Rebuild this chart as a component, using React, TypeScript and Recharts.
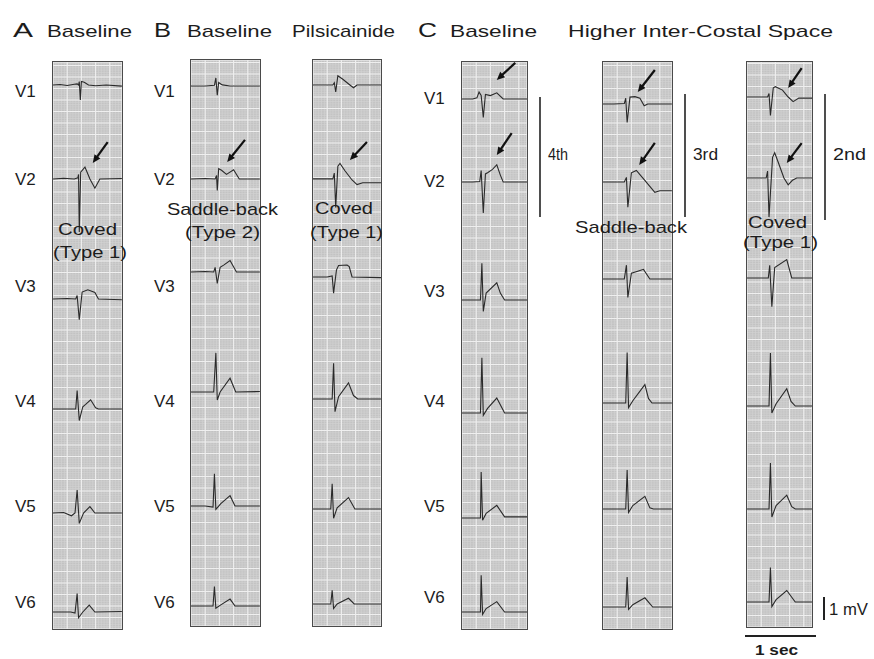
import React from 'react';
import { LineChart, Line, XAxis, YAxis, CartesianGrid, ReferenceLine } from 'recharts';

type Pt = [number, number];

// ---- ECG traces: [time (s) from strip left, amplitude (mV) relative to baseline] ----
const aV1: Pt[] = [[0,0],[0.1,0.02],[0.2,-0.02],[0.3,0.03],[0.34,0.05],[0.36,0],[0.37,0.15],[0.385,-0.65],[0.4,0.15],[0.44,0.12],[0.5,0],[0.6,-0.03],[0.75,0],[0.97,-0.05]];
const aV2: Pt[] = [[0,0],[0.15,0.03],[0.3,0],[0.35,0.05],[0.36,0.2],[0.37,-2.3],[0.39,0.3],[0.45,0.52],[0.52,0],[0.59,-0.4],[0.66,0],[0.97,0.02]];
const aV3: Pt[] = [[0,0],[0.2,0.02],[0.32,0],[0.34,0.15],[0.37,-0.9],[0.41,0.3],[0.49,0.4],[0.59,0.28],[0.64,0],[0.97,-0.03]];
const aV4: Pt[] = [[0,0],[0.2,0],[0.32,0],[0.34,0.8],[0.37,-0.5],[0.42,0.1],[0.46,0.2],[0.53,0.4],[0.6,0.05],[0.64,0],[0.97,0]];
const aV5: Pt[] = [[0,0],[0.15,0.02],[0.26,-0.12],[0.31,0],[0.34,1.0],[0.37,-0.45],[0.43,0],[0.52,0.28],[0.59,0],[0.97,0]];
const aV6: Pt[] = [[0,0],[0.25,0],[0.31,-0.05],[0.34,0.8],[0.36,-0.25],[0.42,0],[0.51,0.3],[0.59,0],[0.97,0.02]];

const bV1: Pt[] = [[0,0],[0.2,0],[0.33,0.03],[0.35,0.35],[0.37,-0.4],[0.39,0.15],[0.44,0.05],[0.55,0],[0.97,0]];
const bV2: Pt[] = [[0,0],[0.2,0.02],[0.34,0],[0.36,0.15],[0.37,-0.5],[0.39,0.45],[0.43,0.38],[0.5,0.2],[0.6,0.4],[0.68,0],[0.97,0]];
const bV3: Pt[] = [[0,0],[0.2,0.02],[0.32,0],[0.34,0.2],[0.37,-0.5],[0.41,0.2],[0.46,0.3],[0.55,0.5],[0.64,0],[0.97,0]];
const bV4: Pt[] = [[0,0],[0.2,0],[0.32,0],[0.35,1.7],[0.37,-0.35],[0.41,0],[0.55,0.6],[0.63,0],[0.97,0.02]];
const bV5: Pt[] = [[0,0],[0.2,0],[0.31,-0.05],[0.33,1.4],[0.35,-0.15],[0.42,0.1],[0.55,0.45],[0.62,0],[0.97,0]];
const bV6: Pt[] = [[0,0],[0.2,0],[0.31,0],[0.33,0.85],[0.35,-0.1],[0.42,0.05],[0.55,0.3],[0.62,0],[0.97,0]];

const pV1: Pt[] = [[0,0],[0.2,0],[0.28,0],[0.3,0.1],[0.32,-0.3],[0.35,0.4],[0.42,0.25],[0.52,0],[0.57,-0.12],[0.62,0],[0.97,0]];
const pV2: Pt[] = [[0,0.05],[0.2,0.05],[0.28,0.05],[0.3,0.3],[0.32,-1.2],[0.35,0.6],[0.38,0.72],[0.45,0.4],[0.55,0],[0.62,-0.2],[0.7,-0.12],[0.97,-0.12]];
const pV3: Pt[] = [[0,0],[0.2,0],[0.27,0.05],[0.29,-0.7],[0.33,0.3],[0.36,0.5],[0.48,0.52],[0.51,0.45],[0.55,0],[0.97,-0.03]];
const pV4: Pt[] = [[0,0],[0.2,0],[0.27,0],[0.29,1.55],[0.31,-0.55],[0.36,0.1],[0.5,0.7],[0.57,0.15],[0.63,0],[0.97,0]];
const pV5: Pt[] = [[0,0],[0.2,0],[0.25,0],[0.27,1.1],[0.29,-0.4],[0.34,0.05],[0.5,0.5],[0.59,0],[0.97,0]];
const pV6: Pt[] = [[0,0],[0.2,0],[0.25,0],[0.27,0.6],[0.29,-0.2],[0.34,0],[0.5,0.25],[0.58,0],[0.97,0]];

const c4V1: Pt[] = [[0,0],[0.15,0],[0.21,0.05],[0.24,0.3],[0.27,0.15],[0.3,-0.8],[0.33,0.2],[0.4,0.15],[0.49,0.27],[0.58,0],[0.92,0]];
const c4V2: Pt[] = [[0,0],[0.15,0],[0.25,0.02],[0.27,0.5],[0.3,-1.35],[0.33,0.35],[0.36,0.4],[0.43,0.55],[0.49,0.75],[0.54,0.3],[0.58,0],[0.92,0]];
const c4V3: Pt[] = [[0,0],[0.15,0],[0.26,0],[0.28,1.6],[0.3,-0.5],[0.34,0.3],[0.49,0.75],[0.54,0.3],[0.6,0],[0.92,0]];
const c4V4: Pt[] = [[0,0],[0.15,0],[0.26,0],[0.28,2.4],[0.3,-0.1],[0.36,0.2],[0.49,0.65],[0.6,0],[0.92,0]];
const c4V5: Pt[] = [[0,0],[0.15,0],[0.26,0],[0.27,2.0],[0.29,-0.1],[0.34,0.2],[0.49,0.55],[0.6,0.05],[0.92,0.05]];
const c4V6: Pt[] = [[0,0],[0.15,0],[0.26,0],[0.27,1.6],[0.29,-0.1],[0.34,0.15],[0.49,0.45],[0.6,0],[0.92,0]];

const c3V1: Pt[] = [[0,0],[0.15,0],[0.3,0.02],[0.32,0.25],[0.34,-0.8],[0.38,0.3],[0.45,0.32],[0.52,0.25],[0.58,-0.08],[0.63,0],[0.97,0]];
const c3V2: Pt[] = [[0,0],[0.15,0],[0.3,0],[0.33,0.2],[0.35,-1.1],[0.4,0.4],[0.47,0.5],[0.58,0.1],[0.73,-0.45],[0.8,-0.38],[0.97,-0.38]];
const c3V3: Pt[] = [[0,0],[0.15,0],[0.3,0],[0.33,0.6],[0.35,-0.8],[0.4,0.25],[0.5,0.35],[0.57,0.42],[0.66,0],[0.97,0]];
const c3V4: Pt[] = [[0,0],[0.15,0],[0.32,0],[0.34,2.2],[0.36,-0.2],[0.42,0.1],[0.59,0.8],[0.64,0.2],[0.69,0],[0.97,0]];
const c3V5: Pt[] = [[0,0],[0.15,0],[0.32,0],[0.34,1.7],[0.36,-0.15],[0.42,0.15],[0.59,0.55],[0.66,0.05],[0.71,0],[0.97,0]];
const c3V6: Pt[] = [[0,0],[0.15,0],[0.32,0],[0.34,1.3],[0.36,-0.1],[0.42,0.1],[0.59,0.4],[0.7,0],[0.97,0]];

const c2V1: Pt[] = [[0,0],[0.15,0],[0.29,0],[0.31,0.15],[0.33,-0.8],[0.37,0.4],[0.4,0.45],[0.5,0.3],[0.58,0],[0.65,-0.2],[0.73,-0.05],[0.92,-0.05]];
const c2V2: Pt[] = [[0,0],[0.15,0],[0.27,0],[0.29,0.3],[0.31,-1.7],[0.36,0.9],[0.39,1.1],[0.45,0.6],[0.52,0],[0.58,-0.3],[0.64,-0.1],[0.7,0],[0.92,0]];
const c2V3: Pt[] = [[0,0],[0.15,0],[0.3,0],[0.32,0.55],[0.35,-1.25],[0.39,0.45],[0.56,0.8],[0.63,0],[0.92,0]];
const c2V4: Pt[] = [[0,0],[0.15,0],[0.31,0],[0.33,2.3],[0.35,-0.3],[0.41,0.1],[0.56,0.75],[0.62,0.2],[0.68,0],[0.92,0]];
const c2V5: Pt[] = [[0,0],[0.15,0],[0.31,0],[0.33,2.0],[0.35,-0.35],[0.41,0.15],[0.56,0.6],[0.63,0.1],[0.68,0],[0.92,0]];
const c2V6: Pt[] = [[0,0],[0.15,0],[0.31,0],[0.33,1.5],[0.35,-0.2],[0.41,0.1],[0.56,0.5],[0.68,0],[0.92,0]];

const leadNames = ['V1', 'V2', 'V3', 'V4', 'V5', 'V6'];

// arrows: [lead index, tail t, tail mV, head t, head mV]
const arrowsA = [[1, 0.77, 1.6, 0.56, 0.7]];
const arrowsB = [[1, 0.76, 1.7, 0.51, 0.74]];
const arrowsP = [[1, 0.76, 1.65, 0.52, 0.87]];
const arrowsC4 = [[0, 0.75, 1.57, 0.49, 0.83], [1, 0.7, 2.13, 0.49, 1.17]];
const arrowsC3 = [[0, 0.73, 1.48, 0.49, 0.52], [1, 0.73, 1.7, 0.51, 0.74]];
const arrowsC2 = [[0, 0.77, 1.26, 0.58, 0.39], [1, 0.77, 1.52, 0.56, 0.65]];

// ---- layout ----
const PX_PER_MV = 23;
const PX_PER_S = 71;

const strips = [
  { key: 'A', left: 53, top: 62, width: 69, height: 567, baselines: [85, 179, 299, 409, 513, 612], leads: [aV1, aV2, aV3, aV4, aV5, aV6], arrows: arrowsA },
  { key: 'B', left: 191, top: 60, width: 69, height: 566, baselines: [86, 179, 272, 392, 506, 606], leads: [bV1, bV2, bV3, bV4, bV5, bV6], arrows: arrowsB },
  { key: 'P', left: 313, top: 60, width: 68, height: 566, baselines: [85, 180, 277, 399, 509, 604], leads: [pV1, pV2, pV3, pV4, pV5, pV6], arrows: arrowsP },
  { key: 'C4', left: 462, top: 62, width: 65, height: 567, baselines: [99, 182, 300, 413, 518, 612], leads: [c4V1, c4V2, c4V3, c4V4, c4V5, c4V6], arrows: arrowsC4 },
  { key: 'C3', left: 603, top: 62, width: 69, height: 567, baselines: [104, 182, 279, 403, 509, 607], leads: [c3V1, c3V2, c3V3, c3V4, c3V5, c3V6], arrows: arrowsC3 },
  { key: 'C2', left: 747, top: 62, width: 65, height: 565, baselines: [97, 178, 278, 406, 509, 602], leads: [c2V1, c2V2, c2V3, c2V4, c2V5, c2V6], arrows: arrowsC2 },
];

const gridSteps = (max: number, step: number) => {
  const out: number[] = [];
  for (let i = 0; i * step <= max + 1e-9; i++) out.push(+(i * step).toFixed(3));
  return out;
};

const ArrowShape = (p: any) => {
  const { x1, y1, x2, y2 } = p;
  if ([x1, y1, x2, y2].some((v) => typeof v !== 'number' || isNaN(v))) return <g />;
  const dx = x2 - x1;
  const dy = y2 - y1;
  const len = Math.hypot(dx, dy) || 1;
  const ux = dx / len;
  const uy = dy / len;
  const hl = 8;
  const hw = 3.6;
  const bx = x2 - ux * hl;
  const by = y2 - uy * hl;
  const px = -uy;
  const py = ux;
  return (
    <g>
      <line x1={x1} y1={y1} x2={bx + ux} y2={by + uy} stroke="#111" strokeWidth={2.2} />
      <polygon points={`${x2},${y2} ${bx + px * hw},${by + py * hw} ${bx - px * hw},${by - py * hw}`} fill="#111" />
    </g>
  );
};

const Strip = ({ s }: { s: (typeof strips)[number] }) => {
  const tMax = s.width / PX_PER_S;
  const mvMax = s.height / PX_PER_MV;
  const fineX = gridSteps(tMax, 0.04);
  const coarseX = gridSteps(tMax, 0.2);
  const fineY = gridSteps(mvMax, 0.1);
  const coarseY = gridSteps(mvMax, 0.5);
  return (
    <div style={{ position: 'absolute', left: s.left, top: s.top, width: s.width, height: s.height, outline: '1px solid #4a4a4a' }}>
      <LineChart width={s.width} height={s.height} margin={{ top: 0, right: 0, bottom: 0, left: 0 }}>
        <XAxis xAxisId="fx" type="number" dataKey="t" domain={[0, tMax]} ticks={fineX} interval={0} hide allowDataOverflow />
        <XAxis xAxisId="cx" type="number" dataKey="t" domain={[0, tMax]} ticks={coarseX} interval={0} hide allowDataOverflow />
        <YAxis yAxisId="fy" type="number" domain={[0, mvMax]} ticks={fineY} interval={0} hide allowDataOverflow />
        <YAxis yAxisId="cy" type="number" domain={[0, mvMax]} ticks={coarseY} interval={0} hide allowDataOverflow />
        {s.baselines.map((b, i) => {
          const off = b - s.top;
          return (
            <YAxis
              key={`ya${i}`}
              yAxisId={`L${i}`}
              type="number"
              domain={[-(s.height - off) / PX_PER_MV, off / PX_PER_MV]}
              hide
              allowDataOverflow
            />
          );
        })}
        <CartesianGrid xAxisId="fx" yAxisId="fy" fill="#c3c3c3" fillOpacity={1} stroke="#d2d2d2" strokeWidth={0.7} />
        <CartesianGrid xAxisId="cx" yAxisId="cy" stroke="#efefef" strokeWidth={1.1} />
        {s.leads.map((pts, i) => (
          <Line
            key={`ln${i}`}
            data={pts.map(([t, v]) => ({ t, v }))}
            dataKey="v"
            xAxisId="fx"
            yAxisId={`L${i}`}
            type="linear"
            dot={false}
            activeDot={false}
            stroke="#2a2a2a"
            strokeWidth={1.1}
            isAnimationActive={false}
          />
        ))}
        {s.arrows.map((a, i) => (
          <ReferenceLine
            key={`ar${i}`}
            xAxisId="fx"
            yAxisId={`L${a[0]}`}
            segment={[{ x: a[1], y: a[2] }, { x: a[3], y: a[4] }]}
            ifOverflow="visible"
            shape={ArrowShape}
          />
        ))}
      </LineChart>
    </div>
  );
};

const FONT = '"Liberation Sans", Arial, sans-serif';
const TXT = '#1c1c1c';

const titles = [
  { text: 'A', x: 13, w: 20, size: 21 },
  { text: 'Baseline', x: 47, w: 85, size: 17 },
  { text: 'B', x: 154, w: 17, size: 21 },
  { text: 'Baseline', x: 187, w: 85, size: 17 },
  { text: 'Pilsicainide', x: 292, w: 103, size: 17 },
  { text: 'C', x: 418, w: 19, size: 21 },
  { text: 'Baseline', x: 450, w: 87, size: 17 },
  { text: 'Higher Inter-Costal Space', x: 568, w: 265, size: 17 },
];

const labelCols = [15, 154, 424];
const labelRowsAB = [97, 185, 292, 407, 512, 608];
const labelRowsC = [104, 187, 297, 407, 512, 603];

const notes = [
  { text: 'Coved', x: 58, y: 235, w: 59 },
  { text: '(Type 1)', x: 53, y: 258, w: 74 },
  { text: 'Saddle-back', x: 167, y: 215, w: 111 },
  { text: '(Type 2)', x: 185, y: 238, w: 75 },
  { text: 'Coved', x: 315, y: 214, w: 58 },
  { text: '(Type 1)', x: 310, y: 238, w: 73 },
  { text: 'Saddle-back', x: 575, y: 233, w: 112 },
  { text: 'Coved', x: 748, y: 228, w: 59 },
  { text: '(Type 1)', x: 743, y: 248, w: 75 },
];

const spaces = [
  { text: '4th', x: 540, y1: 97, y2: 217, w: 20 },
  { text: '3rd', x: 685, y1: 94, y2: 217, w: 25 },
  { text: '2nd', x: 825, y1: 94, y2: 220, w: 33 },
];

export default function App() {
  return (
    <div style={{ position: 'absolute', left: 0, top: 0, width: 874, height: 659, background: '#fff', overflow: 'hidden' }}>
      {strips.map((s) => (
        <Strip key={s.key} s={s} />
      ))}
      <svg width={874} height={659} style={{ position: 'absolute', left: 0, top: 0, pointerEvents: 'none' }}>
        <g fontFamily={FONT} fill={TXT}>
          {titles.map((t, i) => (
            <text key={`t${i}`} x={t.x} y={37} fontSize={t.size} textLength={t.w} lengthAdjust="spacingAndGlyphs">
              {t.text}
            </text>
          ))}
          {labelRowsAB.map((y, i) => (
            <React.Fragment key={`lab${i}`}>
              <text x={labelCols[0]} y={y} fontSize={17}>{leadNames[i]}</text>
              <text x={labelCols[1]} y={y} fontSize={17}>{leadNames[i]}</text>
            </React.Fragment>
          ))}
          {labelRowsC.map((y, i) => (
            <text key={`lc${i}`} x={labelCols[2]} y={y} fontSize={17}>{leadNames[i]}</text>
          ))}
          {notes.map((n, i) => (
            <text key={`n${i}`} x={n.x} y={n.y} fontSize={17} textLength={n.w} lengthAdjust="spacingAndGlyphs">
              {n.text}
            </text>
          ))}
          {spaces.map((s, i) => (
            <React.Fragment key={`s${i}`}>
              <line x1={s.x} y1={s.y1} x2={s.x} y2={s.y2} stroke="#222" strokeWidth={1.6} />
              <text x={s.x + 8} y={160} fontSize={17} textLength={s.w} lengthAdjust="spacingAndGlyphs">{s.text}</text>
            </React.Fragment>
          ))}
          <line x1={745} y1={636} x2={816} y2={636} stroke="#222" strokeWidth={2} />
          <text x={755} y={655} fontSize={14} fontWeight={600} textLength={43} lengthAdjust="spacingAndGlyphs">1 sec</text>
          <line x1={824} y1={597} x2={824} y2={620} stroke="#222" strokeWidth={2} />
          <text x={829} y={615} fontSize={17} textLength={39} lengthAdjust="spacingAndGlyphs">1 mV</text>
        </g>
      </svg>
    </div>
  );
}
